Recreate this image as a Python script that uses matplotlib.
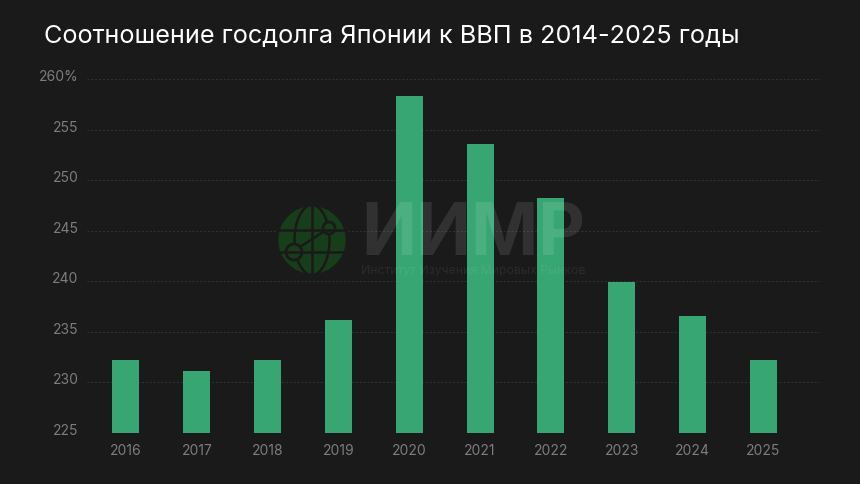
import matplotlib
matplotlib.use("Agg")
import matplotlib.pyplot as plt
from matplotlib.patches import Circle, Ellipse
from matplotlib.transforms import ScaledTranslation

# Data
years = ["2016", "2017", "2018", "2019", "2020", "2021", "2022", "2023", "2024", "2025"]
debt = [232.2, 231.1, 232.2, 236.2, 258.3, 253.6, 248.2, 239.9, 236.6, 232.2]
ticks = [225, 230, 235, 240, 245, 250, 255, 260]
tick_labels = ["225", "230", "235", "240", "245", "250", "255", "260%"]

W, H = 860, 484
BG = "#1a1a1a"
plt.rcParams["font.family"] = ["Inter", "DejaVu Sans"]

fig = plt.figure(figsize=(W / 100, H / 100), dpi=100, facecolor=BG)
ax = fig.add_axes([87 / W, 1 - 433 / H, (820 - 87) / W, (433 - 79) / H], facecolor=BG)

# Bars and dashed grid
x = list(range(len(years)))
ax.bar(x, debt, width=0.38, color="#38a673", zorder=3)
ax.set_xlim(-0.55, 9.8)
ax.set_ylim(225, 260)
ax.set_yticks(ticks)
ax.set_yticklabels(tick_labels)
ax.set_xticks(x)
ax.set_xticklabels(years)
ax.grid(axis="y", color="#333333", linestyle=(0, (2, 2)), linewidth=0.7, zorder=0)
ax.tick_params(axis="both", length=0, labelsize=10, labelcolor="#7d7d7d")
ax.tick_params(axis="x", pad=8)
ax.tick_params(axis="y", pad=6)
for s in ax.spines.values():
    s.set_visible(False)
# y labels sit a little above their grid lines
lift = ScaledTranslation(0, 2 / 100, fig.dpi_scale_trans)
for lab in ax.get_yticklabels():
    lab.set_va("center")
    lab.set_transform(lab.get_transform() + lift)

# Title
fig.text(44 / W, 1 - 36 / H, "Соотношение госдолга Японии к ВВП в 2014-2025 годы",
         color="white", fontsize=18.2, va="center", ha="left")

# Watermark, drawn over the bars
overlay = fig.add_axes([0, 0, 1, 1], facecolor="none", zorder=5)
overlay.set_xlim(0, W)
overlay.set_ylim(H, 0)
overlay.axis("off")
green = "#173d1b"
cx, cy, r = 312, 240, 35
overlay.add_patch(Circle((cx, cy), r, color=green))
for w in [r * 2, r]:
    overlay.add_patch(Ellipse((cx, cy), w, r * 2, fill=False, ec=BG, lw=1.8))
overlay.plot([cx, cx], [cy - r, cy + r], color=BG, lw=1.8)
overlay.plot([cx - r, cx + r], [cy - 10, cy - 10], color=BG, lw=1.8)
overlay.plot([cx - r, cx + r], [cy + 12, cy + 12], color=BG, lw=1.8)
overlay.plot([300, 323], [247, 232], color=BG, lw=1.8)
overlay.add_patch(Circle((329, 228), 6, fc=green, ec=BG, lw=2))
overlay.add_patch(Circle((294, 252), 8, fc=green, ec=BG, lw=2))
overlay.text(361, 236, "ИИМР", color="white", alpha=0.10, fontsize=52,
             fontweight="bold", va="center", ha="left")
overlay.text(361, 271, "Институт Изучения Мировых Рынков", color="white", alpha=0.07,
             fontsize=8.8, va="center", ha="left")

fig.savefig("out.png", dpi=100, facecolor=BG)
